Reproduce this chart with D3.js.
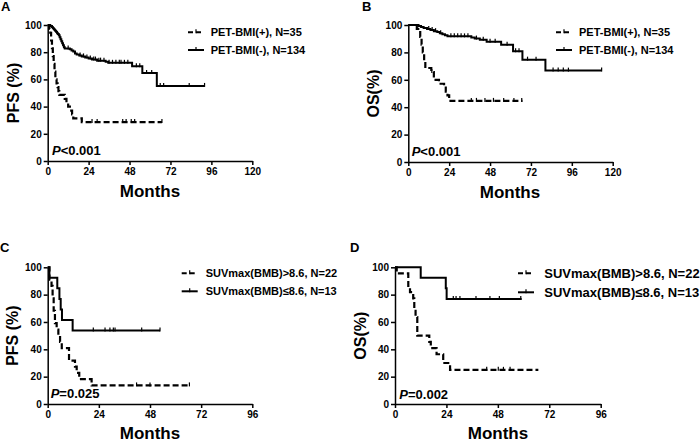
<!DOCTYPE html>
<html><head><meta charset="utf-8">
<script src="https://cdn.jsdelivr.net/npm/d3@7"></script>
<style>body{margin:0;background:#fff}svg{display:block}</style>
</head><body>
<svg id="chart" width="700" height="448"></svg>
<script>
// ---------- data ----------
const xTicksLong = [0, 24, 48, 72, 96, 120];
const xTicksShort = [0, 24, 48, 72, 96];
const yTicks = [0, 20, 40, 60, 80, 100];
const panelLetters = ["A", "B", "C", "D"];
const yTitles = ["PFS (%)", "OS(%)", "PFS (%)", "OS(%)"];
const xTitle = "Months";
const pValues = ["<0.001", "<0.001", "=0.025", "=0.002"];
const legendTop = ["PET-BMI(+), N=35", "PET-BMI(-), N=134"];
const legendBottom = ["SUVmax(BMB)>8.6, N=22", "SUVmax(BMB)\u22648.6, N=13"];

// Panel A: PFS, PET-BMI(+) (dashed) and PET-BMI(-) (solid)
const aPosT = [0, 1.0, 1.5, 2.0, 2.5, 3.0, 3.5, 4.0, 4.5, 5.2, 5.8, 6.3, 6.8, 10.0, 11.0, 12.0, 13.0, 14.3, 15.0, 20.0];
const aPosS = [100, 97.1, 94.3, 88.6, 82.9, 77.1, 71.4, 65.7, 60.0, 57.1, 54.3, 51.4, 48.6, 45.7, 42.9, 40.0, 37.1, 34.3, 31.4, 28.6];
const aPosEnd = 67;
const aPosCens = [26, 29, 44, 46, 49, 51, 67];
const aNegT = [0, 1.5, 2.5, 3.0, 3.5, 4.0, 4.5, 5.0, 5.5, 6.0, 6.5, 7.0, 7.5, 8.0, 8.5, 9.0, 9.5, 10.0, 13.0, 14.0, 15.0, 16.0, 17.0, 18.5, 20.0, 22.0, 24.0, 26.0, 29.0, 34.0, 35.5, 49.5, 55.5, 64.0];
const aNegS = [100, 99.3, 98.5, 97.8, 97.0, 96.3, 95.5, 94.8, 94.0, 93.3, 92.5, 91.0, 89.6, 88.1, 86.6, 85.1, 83.6, 82.8, 82.1, 81.3, 80.6, 79.1, 78.4, 77.6, 76.9, 76.1, 75.4, 74.6, 73.8, 73.0, 72.2, 69.6, 64.7, 55.2];
const aNegEnd = 92;
const aNegCens = [12, 19, 21, 23, 25, 27, 28, 30, 31, 33, 36, 38, 40, 42, 43, 45, 47, 52, 54, 58, 61, 66, 68, 83, 92];

// Panel B: OS, PET-BMI(+) (dashed) and PET-BMI(-) (solid)
const bPosT = [0, 5.0, 7.0, 7.8, 8.5, 9.3, 10.0, 13.5, 15.0, 18.0, 21.0, 22.0, 23.0, 24.0];
const bPosS = [100, 97.1, 91.4, 85.7, 80.0, 74.3, 68.6, 65.7, 60.0, 57.1, 54.3, 51.4, 48.6, 44.6];
const bPosEnd = 67;
const bPosCens = [13.8, 37, 40, 45, 50, 56, 62, 66.6];
const bNegT = [0, 6, 7.5, 9, 11, 13, 15, 17, 18.5, 20, 21.5, 23, 37, 39, 42, 46, 54.5, 61.5, 67, 80.5];
const bNegS = [100, 99.3, 98.5, 97.8, 97.0, 96.3, 95.5, 94.8, 94.0, 93.3, 92.5, 91.7, 90.9, 90.1, 89.3, 87.8, 85.6, 80.9, 74.7, 66.7];
const bNegEnd = 113.5;
const bNegCens = [12, 14, 16, 19, 25, 27, 29, 31, 33, 35, 40, 44, 48, 51, 58, 63, 65, 70, 75, 85, 88, 91, 94, 113.5];

// Panel C: PFS, SUVmax(BMB)>8.6 (dashed) and <=8.6 (solid)
const cHiT = [0, 0.8, 1.8, 2.3, 2.8, 3.4, 4.2, 5.0, 5.8, 6.6, 10.0, 12.8, 13.6, 14.8, 20.6];
const cHiS = [100, 90.9, 86.4, 77.3, 68.2, 59.1, 54.5, 50.0, 45.5, 40.9, 31.8, 27.3, 22.7, 18.2, 13.6];
const cHiEnd = 66.8;
const cHiCens = [41.7, 48.0, 66.5];
const cLoT = [0, 0.8, 4.5, 5.5, 6.1, 6.7, 11.7];
const cLoS = [100, 92.3, 84.6, 76.9, 69.2, 61.5, 53.8];
const cLoEnd = 52.7;
const cLoCens = [21.4, 26.9, 29.2, 30.8, 31.6, 44.1, 52.7];

// Panel D: OS, SUVmax(BMB)>8.6 (dashed) and <=8.6 (solid)
const dHiT = [0, 0.8, 6.2, 7.0, 8.5, 9.0, 9.6, 10.4, 16.0, 16.7, 19.4, 22.5, 25.7];
const dHiS = [100, 95.5, 86.4, 81.8, 77.3, 68.2, 63.6, 50.0, 45.5, 40.9, 36.4, 30.0, 25.0];
const dHiEnd = 66.9;
const dHiCens = [42.8, 48.2, 50.6, 53.7];
const dLoT = [0, 12.0, 23.7, 24.1];
const dLoS = [100, 92.3, 84.6, 76.9];
const dLoEnd = 59.1;
const dLoCens = [27.2, 28.5, 30.3, 37.8, 44.3, 48.7, 58.7];

// ---------- layout ----------
const FONT = "'Liberation Sans', Arial, Helvetica, sans-serif";
const panels = [
  {letter: panelLetters[0], lx: 1, ly: 11, x0: 47.7, x1: 252.3, yTop: 25, yBot: 161, xTicks: xTicksLong,
   yTitle: yTitles[0], ytx: 13, mx: 150, my: 197, p: pValues[0], px: 52, py: 155,
   legend: legendTop, legX: 188, legTextX: 210.7, legY: [32.3, 50], legFont: 11,
   dashed: [aPosT, aPosS, aPosEnd, aPosCens], solid: [aNegT, aNegS, aNegEnd, aNegCens]},
  {letter: panelLetters[1], lx: 362, ly: 11, x0: 408.3, x1: 612.7, yTop: 25, yBot: 162, xTicks: xTicksLong,
   yTitle: yTitles[1], ytx: 373, mx: 510, my: 198, p: pValues[1], px: 411.7, py: 155.7,
   legend: legendTop, legX: 556, legTextX: 579, legY: [32.3, 50], legFont: 11,
   dashed: [bPosT, bPosS, bPosEnd, bPosCens], solid: [bNegT, bNegS, bNegEnd, bNegCens]},
  {letter: panelLetters[2], lx: 0, ly: 252, x0: 47.7, x1: 252.3, yTop: 267.3, yBot: 404, xTicks: xTicksShort,
   yTitle: yTitles[2], ytx: 12, mx: 150, my: 439, p: pValues[2], px: 50.7, py: 398,
   legend: legendBottom, legX: 181.7, legTextX: 205.7, legY: [273.3, 291.3], legFont: 11,
   dashed: [cHiT, cHiS, cHiEnd, cHiCens], solid: [cLoT, cLoS, cLoEnd, cLoCens]},
  {letter: panelLetters[3], lx: 350, ly: 252, x0: 395, x1: 600.7, yTop: 267.3, yBot: 404, xTicks: xTicksShort,
   yTitle: yTitles[3], ytx: 360, mx: 498, my: 439, p: pValues[3], px: 399.3, py: 399,
   legend: legendBottom, legX: 518, legTextX: 544.3, legY: [273.3, 292.3], legFont: 13,
   dashed: [dHiT, dHiS, dHiEnd, dHiCens], solid: [dLoT, dLoS, dLoEnd, dLoCens]}
];

const svg = d3.select("#chart");
svg.append("rect").attr("width", 700).attr("height", 448).attr("fill", "#fff");

function survAt(T, S, t) {
  let s = S[0];
  for (let i = 0; i < T.length; i++) { if (T[i] <= t) s = S[i]; }
  return s;
}

panels.forEach(p => {
  const xMax = p.xTicks[p.xTicks.length - 1];
  const x = d3.scaleLinear().domain([0, xMax]).range([p.x0, p.x1]);
  const y = d3.scaleLinear().domain([0, 100]).range([p.yBot, p.yTop]);
  const g = svg.append("g");

  // axes
  const xAxis = g.append("g").attr("transform", `translate(0,${p.yBot})`)
    .call(d3.axisBottom(x).tickValues(p.xTicks).tickSize(4).tickSizeOuter(0).tickPadding(3));
  const yAxis = g.append("g").attr("transform", `translate(${p.x0},0)`)
    .call(d3.axisLeft(y).tickValues(yTicks).tickSize(4).tickSizeOuter(0).tickPadding(2));
  [xAxis, yAxis].forEach(a => {
    a.select(".domain").attr("stroke", "#000").attr("stroke-width", 1.5);
    a.selectAll(".tick line").attr("stroke", "#000").attr("stroke-width", 1.5);
    a.selectAll("text").attr("fill", "#000").style("font-family", FONT)
      .style("font-size", "10px").style("font-weight", "bold");
  });

  // curves
  const line = d3.line().x(d => x(d[0])).y(d => y(d[1])).curve(d3.curveStepAfter);
  const drawCurve = (ser, dashed) => {
    const [T, S, end, cens] = ser;
    const pts = T.map((t, i) => [t, S[i]]);
    pts.push([end, S[S.length - 1]]);
    g.append("path").attr("d", line(pts)).attr("fill", "none").attr("stroke", "#000")
      .attr("stroke-width", dashed ? 2.2 : 2)
      .attr("stroke-dasharray", dashed ? "6,3" : null);
    g.selectAll(null).data(cens).enter().append("line")
      .attr("x1", d => x(d)).attr("x2", d => x(d))
      .attr("y1", d => y(survAt(T, S, d)) - 3).attr("y2", d => y(survAt(T, S, d)) + 1)
      .attr("stroke", "#000").attr("stroke-width", 1.2);
  };
  drawCurve(p.solid, false);
  drawCurve(p.dashed, true);

  // legend
  p.legend.forEach((lab, i) => {
    const ly = p.legY[i];
    const dashed = i === 0;
    g.append("line").attr("x1", p.legX).attr("x2", p.legX + 16).attr("y1", ly).attr("y2", ly)
      .attr("stroke", "#000").attr("stroke-width", 2)
      .attr("stroke-dasharray", dashed ? "5,3" : null);
    g.append("line").attr("x1", p.legX + 8).attr("x2", p.legX + 8).attr("y1", ly - 3).attr("y2", ly + 1)
      .attr("stroke", "#000").attr("stroke-width", 1.2);
    g.append("text").attr("x", p.legTextX).attr("y", ly).attr("dy", "0.35em")
      .style("font-family", FONT).style("font-size", p.legFont + "px").style("font-weight", "bold")
      .text(lab);
  });

  // P value
  const pt = g.append("text").attr("x", p.px).attr("y", p.py)
    .style("font-family", FONT).style("font-size", "13px").style("font-weight", "bold");
  pt.append("tspan").style("font-style", "italic").text("P");
  pt.append("tspan").text(p.p);

  // titles
  g.append("text").attr("x", p.mx).attr("y", p.my).attr("text-anchor", "middle")
    .style("font-family", FONT).style("font-size", "17px").style("font-weight", "bold").text(xTitle);
  g.append("text").attr("transform", `translate(${p.ytx},${(p.yTop + p.yBot) / 2}) rotate(-90)`)
    .attr("text-anchor", "middle").attr("dy", "0.35em")
    .style("font-family", FONT).style("font-size", "16px").style("font-weight", "bold").text(p.yTitle);
  g.append("text").attr("x", p.lx).attr("y", p.ly)
    .style("font-family", FONT).style("font-size", "13px").style("font-weight", "bold").text(p.letter);
});
</script>
</body></html>
